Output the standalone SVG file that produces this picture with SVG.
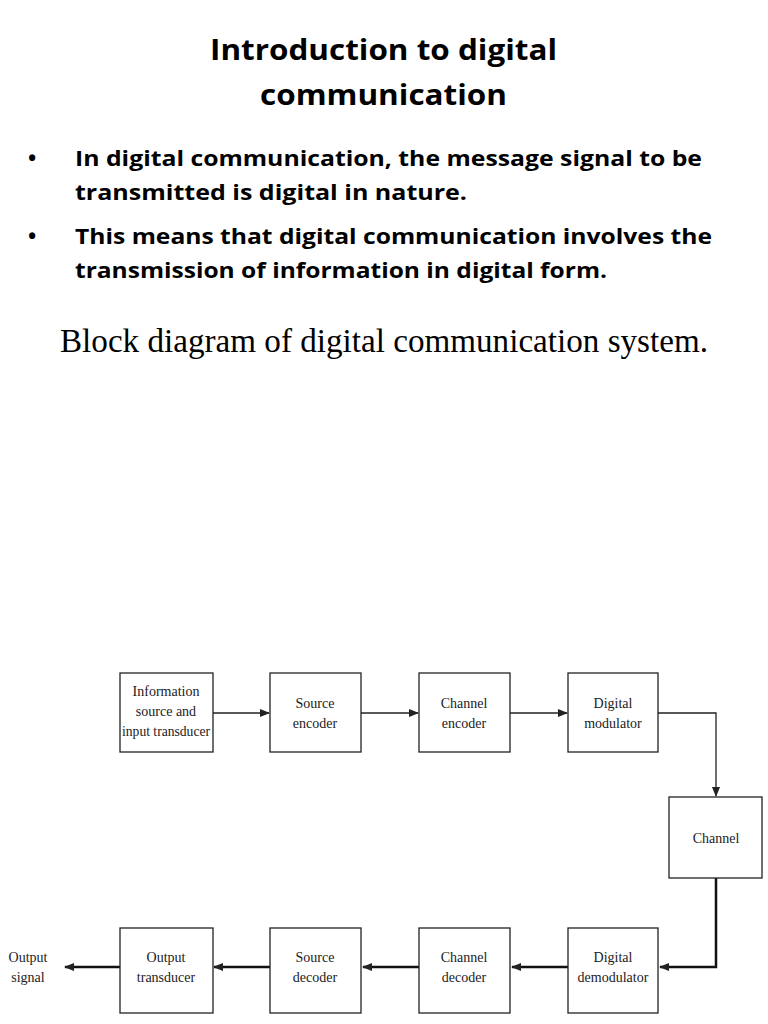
<svg xmlns="http://www.w3.org/2000/svg" width="768" height="1024" viewBox="0 0 768 1024">
<style>
.t{font-family:"Open Sans","Liberation Sans",sans-serif;font-weight:bold;fill:#000}
.b{font-family:"Open Sans","Liberation Sans",sans-serif;font-weight:bold;font-size:22px;fill:#000}
.n{font-family:"Liberation Serif",serif;font-size:14px;fill:#222;text-anchor:middle}
rect{fill:#fff;stroke:#222;stroke-width:1.3}
.c{fill:none;stroke:#222;stroke-width:1.3}
.k{fill:none;stroke:#111;stroke-width:2.5}
</style>
<defs>
<marker id="a" markerWidth="10" markerHeight="8" refX="9" refY="4" orient="auto" markerUnits="userSpaceOnUse"><path d="M0,0 L10,4 L0,8 z" fill="#222"/></marker>
</defs>
<rect x="0" y="0" width="768" height="1024" style="fill:#fff;stroke:none"/>
<text class="t" x="210" y="60" font-size="29" textLength="347" lengthAdjust="spacingAndGlyphs">Introduction to digital</text>
<text class="t" x="260" y="105" font-size="29" textLength="247" lengthAdjust="spacingAndGlyphs">communication</text>
<text class="b" x="28" y="166">•</text><text class="b" x="75" y="166" textLength="627" lengthAdjust="spacingAndGlyphs">In digital communication, the message signal to be</text>
<text class="b" x="75" y="200" textLength="392" lengthAdjust="spacingAndGlyphs">transmitted is digital in nature.</text>
<text class="b" x="28" y="244">•</text><text class="b" x="75" y="244" textLength="637" lengthAdjust="spacingAndGlyphs">This means that digital communication involves the</text>
<text class="b" x="75" y="278" textLength="532" lengthAdjust="spacingAndGlyphs">transmission of information in digital form.</text>
<text x="384" y="352" font-family="Liberation Serif,serif" font-size="33" text-anchor="middle" textLength="648" lengthAdjust="spacingAndGlyphs">Block diagram of digital communication system.</text>
<g id="connectors">
<line class="c" x1="213" y1="713" x2="269" y2="713" marker-end="url(#a)"/>
<line class="c" x1="361" y1="713" x2="418" y2="713" marker-end="url(#a)"/>
<line class="c" x1="510" y1="713" x2="567" y2="713" marker-end="url(#a)"/>
<polyline class="c" points="658,713 716,713 716,796" marker-end="url(#a)"/>
<polyline class="k" points="716,878 716,967 660,967" marker-end="url(#a)"/>
<line class="k" x1="568" y1="967" x2="512" y2="967" marker-end="url(#a)"/>
<line class="k" x1="419" y1="967" x2="363" y2="967" marker-end="url(#a)"/>
<line class="k" x1="270" y1="967" x2="214" y2="967" marker-end="url(#a)"/>
<line class="k" x1="120" y1="967" x2="65" y2="967" marker-end="url(#a)"/>
</g>
<g id="info"><rect x="120" y="673" width="93" height="79"/><text class="n" x="166" y="696">Information</text><text class="n" x="166" y="716">source and</text><text class="n" x="166" y="736" textLength="88" lengthAdjust="spacingAndGlyphs">input transducer</text></g>
<g id="srcenc"><rect x="270" y="673" width="91" height="79"/><text class="n" x="315" y="708">Source</text><text class="n" x="315" y="728">encoder</text></g>
<g id="chenc"><rect x="419" y="673" width="91" height="79"/><text class="n" x="464" y="708">Channel</text><text class="n" x="464" y="728">encoder</text></g>
<g id="mod"><rect x="568" y="673" width="90" height="79"/><text class="n" x="613" y="708">Digital</text><text class="n" x="613" y="728">modulator</text></g>
<g id="channel"><rect x="669" y="797" width="93" height="81"/><text class="n" x="716" y="843">Channel</text></g>
<g id="demod"><rect x="568" y="928" width="90" height="85"/><text class="n" x="613" y="962">Digital</text><text class="n" x="613" y="982">demodulator</text></g>
<g id="chdec"><rect x="419" y="928" width="91" height="85"/><text class="n" x="464" y="962">Channel</text><text class="n" x="464" y="982">decoder</text></g>
<g id="srcdec"><rect x="270" y="928" width="91" height="85"/><text class="n" x="315" y="962">Source</text><text class="n" x="315" y="982">decoder</text></g>
<g id="outtr"><rect x="120" y="928" width="93" height="85"/><text class="n" x="166" y="962">Output</text><text class="n" x="166" y="982">transducer</text></g>
<g id="outsig"><text class="n" x="28" y="962">Output</text><text class="n" x="28" y="982">signal</text></g>
</svg>
